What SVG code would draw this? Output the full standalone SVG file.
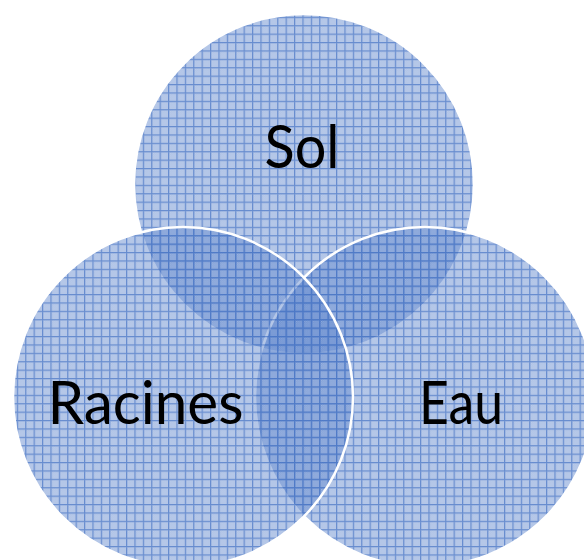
<svg xmlns="http://www.w3.org/2000/svg" width="584" height="560" viewBox="0 0 584 560">
  <defs>
    <pattern id="dots" width="2" height="2" patternUnits="userSpaceOnUse">
      <rect width="1" height="1" fill="#ffffff" fill-opacity="0.18"/>
      <rect x="1" y="1" width="1" height="1" fill="#ffffff" fill-opacity="0.18"/>
    </pattern>
    <pattern id="grid" width="8.4" height="8.4" patternUnits="userSpaceOnUse">
      <rect width="8.4" height="8.4" fill="#4472c4" fill-opacity="0.44"/>
      <rect width="8.4" height="8.4" fill="url(#dots)"/>
      <rect x="0" y="0" width="8.4" height="1.2" fill="#4472c4" fill-opacity="0.7"/>
      <rect x="0" y="1.2" width="1.2" height="7.2" fill="#4472c4" fill-opacity="0.7"/>
    </pattern>
  </defs>
  <style>
    .c { fill: url(#grid); stroke: #ffffff; stroke-width: 2.5; }
    .t { font-family: Lato, "Open Sans", "Liberation Sans", sans-serif; font-size: 60px; fill: #000000; text-anchor: middle; }
  </style>
  <g id="sol">
    <circle class="c" cx="304" cy="184" r="170"/>
  </g>
  <g id="eau">
    <circle class="c" cx="425" cy="397" r="170"/>
  </g>
  <g id="racines">
    <circle class="c" cx="183" cy="397" r="170"/>
  </g>
  <g id="connectors"></g>
  <g id="labels">
    <text class="t" x="302" y="168" textLength="75" lengthAdjust="spacingAndGlyphs">Sol</text>
    <text class="t" x="145.5" y="424" textLength="196" lengthAdjust="spacingAndGlyphs">Racines</text>
    <text class="t" x="461" y="424" textLength="84" lengthAdjust="spacingAndGlyphs">Eau</text>
  </g>
</svg>
